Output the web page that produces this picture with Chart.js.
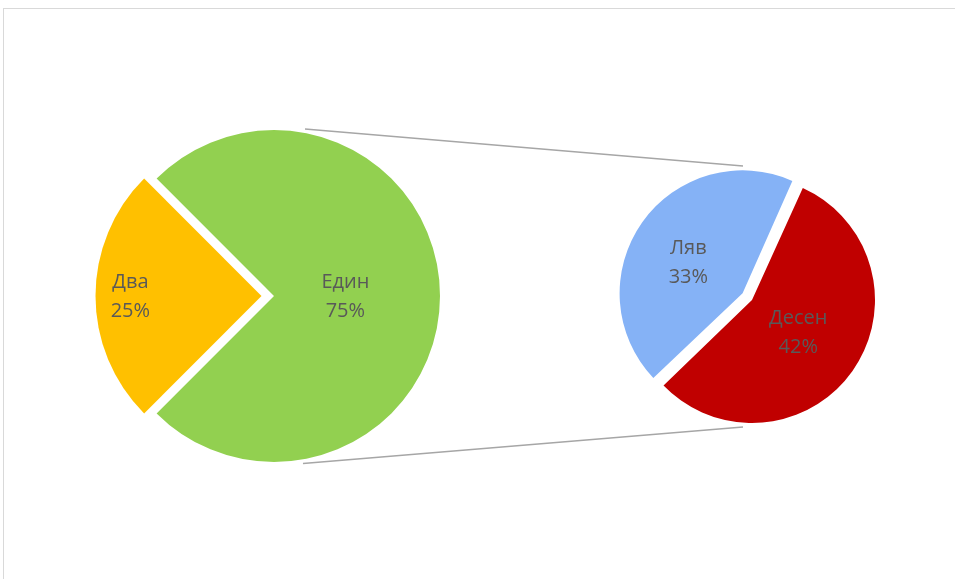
<!DOCTYPE html>
<html>
<head>
<meta charset="utf-8">
<script src="https://cdn.jsdelivr.net/npm/chart.js@4.4.1/dist/chart.umd.min.js"></script>
<style>
  body { margin: 0; background: #fff; }
  #wrap { position: relative; width: 955px; height: 579px; overflow: hidden; background: #fff; }
  #frame { position: absolute; left: 3px; top: 8px; width: 1000px; height: 620px; border: 1px solid #d9d9d9; }
  canvas { position: absolute; }
</style>
</head>
<body>
<div id="wrap">
  <div id="frame"></div>
  <canvas id="lines" width="955" height="579" style="left:0;top:0"></canvas>
  <canvas id="mainPie" width="400" height="400" style="left:74px;top:96px"></canvas>
  <canvas id="subPie" width="300" height="300" style="left:602px;top:150px"></canvas>
</div>
<script>
// main pie
const mainLabels = ['Един', 'Два'];
const mainValues = [75, 25];
const mainColors = ['#92d050', '#ffc000'];

// second pie (breakdown of "Един")
const subLabels = ['Ляв', 'Десен'];
const subValues = [33, 42];
const subColors = ['#85b2f6', '#c00000'];

const textColor = '#595959';
const labelFont = '20px "Open Sans", "Noto Sans", sans-serif';

// label distance from the slice tip (share of radius) plus a small px nudge
const labelPos = {
  mainPie: [[0.43, 0, 0], [0.79, 0, 0]],
  subPie: [[0.52, -2, 6], [0.46, 0, 0]]
};

// Chart.js shifts an exploded arc by offset / 4 px
const sliceShift = arc => (arc.options.offset || 0) / 4;

// Chart.js also grows an exploded arc; undo that so every slice keeps the pie radius
const keepRadius = {
  id: 'keepRadius',
  afterUpdate(chart) {
    chart.getDatasetMeta(0).data.forEach(arc => {
      const s = sliceShift(arc);
      if (!s) return;
      const circ = arc.endAngle - arc.startAngle;
      arc.outerRadius -= s * (1 - Math.sin(Math.min(Math.PI, circ)));
    });
  }
};

const sliceLabels = {
  id: 'sliceLabels',
  afterDatasetsDraw(chart) {
    const ctx = chart.ctx;
    const meta = chart.getDatasetMeta(0);
    const values = chart.data.datasets[0].data;
    const pos = labelPos[chart.canvas.id];
    const r = meta.controller.outerRadius;
    ctx.save();
    ctx.font = labelFont;
    ctx.fillStyle = textColor;
    ctx.textAlign = 'center';
    ctx.textBaseline = 'middle';
    meta.data.forEach((arc, i) => {
      const [k, nx, ny] = pos[i];
      const mid = (arc.startAngle + arc.endAngle) / 2;
      const d = sliceShift(arc) + k * r;
      const x = arc.x + Math.cos(mid) * d + nx;
      const y = arc.y + Math.sin(mid) * d + ny;
      ctx.fillText(chart.data.labels[i], x, y - 14);
      ctx.fillText(values[i] + '%', x, y + 15);
    });
    ctx.restore();
  }
};

const baseOptions = {
  responsive: false,
  animation: false,
  layout: { padding: 0 },
  plugins: { legend: { display: false }, tooltip: { enabled: false } }
};

const mainChart = new Chart(document.getElementById('mainPie'), {
  type: 'pie',
  data: {
    labels: mainLabels,
    datasets: [{
      data: mainValues,
      backgroundColor: mainColors,
      borderWidth: 0,
      offset: [0, 50]
    }]
  },
  options: { ...baseOptions, rotation: -45, radius: 166 },
  plugins: [keepRadius, sliceLabels]
});

const subChart = new Chart(document.getElementById('subPie'), {
  type: 'pie',
  data: {
    labels: subLabels,
    datasets: [{
      data: subValues,
      backgroundColor: subColors,
      borderWidth: 0,
      offset: [46, 0]
    }]
  },
  options: { ...baseOptions, rotation: 226, radius: 123 },
  plugins: [keepRadius, sliceLabels]
});

// connector lines between the two pies
function pieGeom(chart) {
  const meta = chart.getDatasetMeta(0);
  const arc = meta.data[0];
  const c = chart.canvas;
  return { x: c.offsetLeft + arc.x, y: c.offsetTop + arc.y, r: meta.controller.outerRadius };
}

const a = pieGeom(mainChart);
const b = pieGeom(subChart);
const lc = document.getElementById('lines').getContext('2d');
lc.strokeStyle = '#a6a6a6';
lc.lineWidth = 1.5;
const ends = [
  [a.x + 31, a.y - a.r - 1, b.x - 9, b.y - b.r - 11],
  [a.x + 29, a.y + a.r + 1.5, b.x - 9, b.y + b.r + 4]
];
ends.forEach(([x1, y1, x2, y2]) => {
  lc.beginPath();
  lc.moveTo(x1, y1);
  lc.lineTo(x2, y2);
  lc.stroke();
});
</script>
</body>
</html>
